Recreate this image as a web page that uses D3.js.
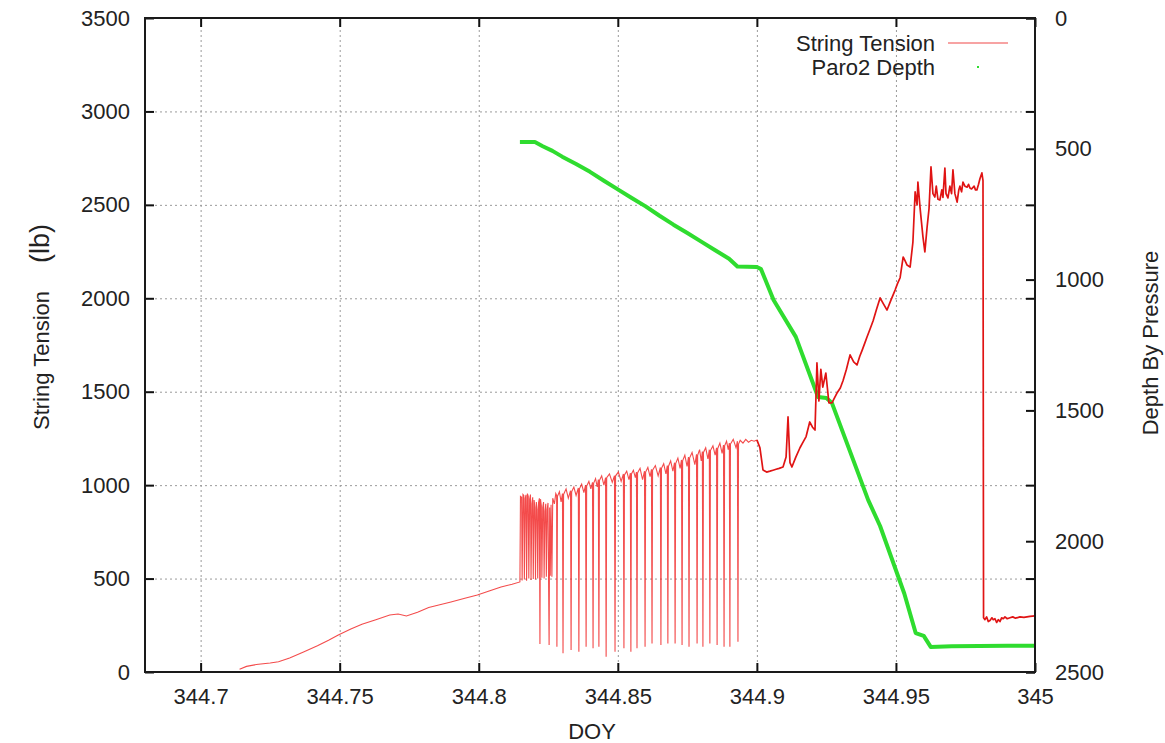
<!DOCTYPE html>
<html>
<head>
<meta charset="utf-8">
<script src="https://cdn.jsdelivr.net/npm/d3@7"></script>
<style>
body { margin: 0; background: #fff; }
svg { font-family: "Liberation Sans", Arial, Helvetica, sans-serif; }
.axis text { font-size: 22px; fill: #222; }
.axis line { stroke: #111; stroke-width: 2; }
.axis .domain { display: none; }
.grid line { stroke: #9a9a9a; stroke-width: 1; stroke-dasharray: 2,3; }
.grid .domain { display: none; }
.label { font-size: 22px; fill: #222; }
</style>
</head>
<body>
<div id="chart"></div>
<script>

// tick values / labels
var xTicks = [344.7, 344.75, 344.8, 344.85, 344.9, 344.95, 345];
var xTickLabels = ["344.7", "344.75", "344.8", "344.85", "344.9", "344.95", "345"];
var yTicks = [0, 500, 1000, 1500, 2000, 2500, 3000, 3500];
var y2Ticks = [0, 500, 1000, 1500, 2000, 2500];

// String Tension (lb) vs DOY
var tension = [
    [344.7140, 15], [344.7165, 30], [344.7200, 40], [344.7250, 48], [344.7280, 55],
    [344.7320, 75], [344.7370, 107], [344.7420, 140], [344.7460, 170], [344.7495, 198],
    [344.7540, 230], [344.7580, 255], [344.7630, 280], [344.7680, 305], [344.7710, 310],
    [344.7740, 300], [344.7780, 320], [344.7820, 345], [344.7860, 360], [344.7900, 375],
    [344.7950, 395], [344.7995, 412], [344.8040, 435], [344.8080, 455], [344.8120, 470],
    [344.8148, 482],
    // dense block
    [344.8150, 940], [344.8154, 935], [344.8156, 490], [344.8159, 950], [344.8162, 945],
    [344.8164, 495], [344.8167, 930], [344.8170, 948], [344.8172, 488], [344.8175, 955],
    [344.8178, 940], [344.8180, 500], [344.8183, 925], [344.8186, 950], [344.8188, 492],
    [344.8191, 900], [344.8194, 935], [344.8196, 498], [344.8199, 920], [344.8202, 880],
    [344.8204, 495], [344.8207, 910], [344.8210, 870], [344.8212, 500], [344.8215, 905],
    [344.8218, 930], [344.8220, 150], [344.8222, 925], [344.8225, 890], [344.8227, 505],
    [344.8230, 880], [344.8233, 910], [344.8235, 500], [344.8238, 860], [344.8241, 900],
    [344.8243, 510], [344.8246, 870], [344.8249, 905], [344.8251, 505], [344.8253, 145],
    [344.8255, 880], [344.8257, 515], [344.8260, 895], [344.8263, 510], [344.8266, 930],
    // spikes
    [344.8272, 900], [344.8277, 955], [344.8280, 945], [344.8281, 135], [344.8283, 940],
    [344.8290, 965], [344.8296, 910], [344.8301, 955], [344.8303, 100], [344.8305, 950],
    [344.8314, 980], [344.8322, 930], [344.8330, 970], [344.8332, 118], [344.8334, 965],
    [344.8342, 990], [344.8350, 945], [344.8358, 985], [344.8360, 109], [344.8362, 980],
    [344.8370, 1005], [344.8378, 960], [344.8384, 1000], [344.8386, 135], [344.8388, 995],
    [344.8396, 1020], [344.8403, 980], [344.8409, 1015], [344.8411, 127], [344.8413, 1010],
    [344.8420, 1035], [344.8426, 990], [344.8430, 1030], [344.8432, 135], [344.8434, 1025],
    [344.8442, 1050], [344.8450, 1000], [344.8456, 1040], [344.8458, 82], [344.8460, 1040],
    [344.8470, 1060], [344.8480, 1015], [344.8488, 1050], [344.8490, 109], [344.8492, 1050],
    [344.8502, 1070], [344.8512, 1020], [344.8520, 1060], [344.8522, 127], [344.8524, 1055],
    [344.8532, 1075], [344.8540, 1030], [344.8545, 1065], [344.8547, 109], [344.8549, 1060],
    [344.8556, 1080], [344.8563, 1040], [344.8567, 1070], [344.8569, 127], [344.8571, 1065],
    [344.8580, 1090], [344.8589, 1030], [344.8596, 1075], [344.8598, 135], [344.8600, 1070],
    [344.8608, 1095], [344.8616, 1045], [344.8621, 1085], [344.8623, 153], [344.8625, 1080],
    [344.8635, 1105], [344.8645, 1050], [344.8653, 1095], [344.8655, 144], [344.8657, 1090],
    [344.8665, 1115], [344.8673, 1060], [344.8678, 1105], [344.8680, 153], [344.8682, 1100],
    [344.8690, 1130], [344.8698, 1075], [344.8704, 1120], [344.8706, 153], [344.8708, 1115],
    [344.8716, 1145], [344.8724, 1090], [344.8729, 1135], [344.8731, 144], [344.8733, 1130],
    [344.8741, 1160], [344.8749, 1100], [344.8754, 1150], [344.8756, 135], [344.8758, 1145],
    [344.8767, 1175], [344.8777, 1110], [344.8783, 1165], [344.8785, 153], [344.8787, 1160],
    [344.8794, 1190], [344.8800, 1130], [344.8804, 1180], [344.8806, 135], [344.8808, 1175],
    [344.8816, 1200], [344.8824, 1140], [344.8829, 1190], [344.8831, 153], [344.8833, 1185],
    [344.8842, 1210], [344.8850, 1160], [344.8855, 1200], [344.8857, 144], [344.8859, 1195],
    [344.8867, 1225], [344.8875, 1170], [344.8880, 1215], [344.8882, 135], [344.8884, 1210],
    [344.8891, 1235], [344.8897, 1190], [344.8901, 1225], [344.8903, 135], [344.8905, 1220],
    [344.8915, 1245], [344.8925, 1200], [344.8930, 1235], [344.8932, 162], [344.8934, 1220],
    [344.8940, 1240], [344.8950, 1225], [344.8960, 1245], [344.8970, 1230], [344.8980, 1240],
    [344.8990, 1235], [344.9000, 1242],
    // descent of the string
    [344.9011, 1200], [344.9022, 1081], [344.9035, 1070], [344.9047, 1075], [344.9058, 1080],
    [344.9069, 1085], [344.9080, 1090], [344.9094, 1097], [344.9105, 1150], [344.9112, 1365],
    [344.9119, 1120], [344.9126, 1097], [344.9140, 1150], [344.9155, 1200], [344.9166, 1230],
    [344.9177, 1260], [344.9190, 1338], [344.9200, 1310], [344.9209, 1295], [344.9216, 1654],
    [344.9223, 1450], [344.9230, 1620], [344.9237, 1525], [344.9248, 1600], [344.9259, 1440],
    [344.9270, 1440], [344.9280, 1470], [344.9288, 1493], [344.9300, 1520], [344.9310, 1560],
    [344.9322, 1620], [344.9335, 1697], [344.9348, 1660], [344.9360, 1643], [344.9370, 1690],
    [344.9378, 1720], [344.9388, 1760], [344.9396, 1793], [344.9408, 1840], [344.9418, 1880],
    [344.9430, 1940], [344.9443, 2002], [344.9455, 1970], [344.9468, 1937], [344.9482, 1990],
    [344.9497, 2044], [344.9506, 2080], [344.9515, 2110], [344.9526, 2221], [344.9533, 2200],
    [344.9540, 2178], [344.9551, 2167], [344.9561, 2300], [344.9569, 2569], [344.9576, 2500],
    [344.9579, 2622], [344.9587, 2480], [344.9597, 2330], [344.9604, 2248], [344.9612, 2380],
    [344.9619, 2480], [344.9626, 2703], [344.9633, 2560], [344.9640, 2542], [344.9645, 2600],
    [344.9651, 2530], [344.9658, 2526], [344.9665, 2580], [344.9669, 2540], [344.9676, 2697],
    [344.9680, 2560], [344.9687, 2537], [344.9694, 2600], [344.9700, 2560], [344.9705, 2687],
    [344.9712, 2560], [344.9720, 2515], [344.9726, 2580], [344.9730, 2600], [344.9736, 2570],
    [344.9741, 2622], [344.9748, 2600], [344.9756, 2595], [344.9761, 2610], [344.9766, 2590],
    [344.9772, 2585], [344.9781, 2600], [344.9786, 2580], [344.9791, 2580], [344.9797, 2610],
    [344.9802, 2640], [344.9809, 2671], [344.9813, 2630],
    // after release
    [344.9815, 290], [344.9820, 280], [344.9826, 295], [344.9832, 270], [344.9838, 275],
    [344.9845, 290], [344.9850, 280], [344.9856, 285], [344.9862, 265], [344.9868, 280],
    [344.9874, 270], [344.9880, 290], [344.9886, 285], [344.9892, 295], [344.9900, 285],
    [344.9910, 290], [344.9920, 295], [344.9930, 288], [344.9946, 295], [344.9960, 292],
    [344.9982, 298], [345.0000, 300]
];

// Paro2 Depth vs DOY
var depth = [
    [344.8148, 474], [344.8202, 474], [344.8230, 490], [344.8265, 508], [344.8300, 530],
    [344.8350, 558], [344.8400, 588], [344.8450, 622], [344.8500, 655], [344.8550, 688],
    [344.8600, 720], [344.8650, 756], [344.8700, 790], [344.8750, 822], [344.8800, 855],
    [344.8850, 888], [344.8900, 920], [344.8930, 950], [344.9000, 952], [344.9015, 960],
    [344.9060, 1078], [344.9140, 1219], [344.9220, 1449], [344.9250, 1453], [344.9270, 1472],
    [344.9400, 1842], [344.9443, 1942], [344.9530, 2200], [344.9571, 2351], [344.9600, 2362],
    [344.9625, 2404], [344.9700, 2402], [344.9800, 2401], [344.9900, 2400], [345.0000, 2400]
];

var margin = { top: 18, right: 130, bottom: 71, left: 145 };
var width = 1165 - margin.left - margin.right,
    height = 743 - margin.top - margin.bottom;

var svg = d3.select("#chart").append("svg")
    .attr("width", 1165)
    .attr("height", 743);

var g = svg.append("g")
    .attr("transform", "translate(" + margin.left + "," + margin.top + ")");

// Scales
var x = d3.scaleLinear().domain([344.68, 345]).range([0, width]);
var y = d3.scaleLinear().domain([0, 3500]).range([height, 0]);
var y2 = d3.scaleLinear().domain([0, 2500]).range([0, height]);

// Grid
g.append("g").attr("class", "grid")
    .attr("transform", "translate(0," + height + ")")
    .call(d3.axisBottom(x).tickValues(xTicks.slice(0, 6)).tickSize(-height).tickFormat(""));
g.append("g").attr("class", "grid")
    .call(d3.axisLeft(y).tickValues(yTicks.slice(1, 7)).tickSize(-width).tickFormat(""));

// Clip
svg.append("defs").append("clipPath").attr("id", "clip")
    .append("rect").attr("width", width).attr("height", height);

var plot = g.append("g").attr("clip-path", "url(#clip)");

var tensionLine = d3.line()
    .x(function(d){ return x(d[0]); })
    .y(function(d){ return y(d[1]); });

var depthLine = d3.line()
    .x(function(d){ return x(d[0]); })
    .y(function(d){ return y2(d[1]); });

plot.append("path")
    .datum(depth)
    .attr("fill", "none")
    .attr("stroke", "#2fdc2f")
    .attr("stroke-width", 4)
    .attr("stroke-linejoin", "round")
    .attr("d", depthLine);

// early part of the record is thinner/lighter in the original, later part darker
plot.append("path")
    .datum(tension.filter(function(d){ return d[0] <= 344.9; }))
    .attr("fill", "none")
    .attr("stroke", "#f01e1e")
    .attr("stroke-width", 1.1)
    .attr("stroke-opacity", 0.8)
    .attr("d", tensionLine);

plot.append("path")
    .datum(tension.filter(function(d){ return d[0] >= 344.9; }))
    .attr("fill", "none")
    .attr("stroke", "#e01414")
    .attr("stroke-width", 1.7)
    .attr("stroke-linejoin", "round")
    .attr("d", tensionLine);

// Axes
g.append("g").attr("class", "axis")
    .attr("transform", "translate(0," + height + ")")
    .call(d3.axisBottom(x).tickValues(xTicks).tickSize(-9).tickPadding(16)
        .tickFormat(function(d, i){ return xTickLabels[i]; }));

g.append("g").attr("class", "axis")
    .call(d3.axisTop(x).tickValues(xTicks).tickSize(-9).tickFormat(""));

g.append("g").attr("class", "axis")
    .call(d3.axisLeft(y).tickValues(yTicks).tickSize(-9).tickPadding(15)
        .tickFormat(d3.format("d")));

g.append("g").attr("class", "axis")
    .attr("transform", "translate(" + width + ",0)")
    .call(d3.axisRight(y).tickValues(yTicks).tickSize(-9).tickFormat(""));

g.append("g").attr("class", "axis")
    .attr("transform", "translate(" + width + ",0)")
    .call(d3.axisRight(y2).tickValues(y2Ticks).tickSize(-9).tickPadding(20)
        .tickFormat(d3.format("d")));

// Frame
g.append("rect")
    .attr("width", width)
    .attr("height", height)
    .attr("fill", "none")
    .attr("stroke", "#1a1a1a")
    .attr("stroke-width", 2);

// Axis titles
svg.append("text")
    .attr("class", "label")
    .attr("x", 592)
    .attr("y", 739)
    .attr("text-anchor", "middle")
    .text("DOY");

svg.append("text")
    .attr("class", "label")
    .attr("transform", "translate(49,430) rotate(-90)")
    .text("String Tension");

svg.append("text")
    .attr("class", "label")
    .style("font-size", "27px")
    .attr("transform", "translate(49,263) rotate(-90)")
    .text("(lb)");

svg.append("text")
    .attr("class", "label")
    .attr("transform", "translate(1158,343) rotate(-90)")
    .attr("text-anchor", "middle")
    .text("Depth By Pressure");

// Legend
var legend = svg.append("g");
legend.append("text").attr("class", "label")
    .attr("x", 935).attr("y", 51).attr("text-anchor", "end")
    .text("String Tension");
legend.append("line")
    .attr("x1", 948).attr("x2", 1008).attr("y1", 43).attr("y2", 43)
    .attr("stroke", "#f04848").attr("stroke-width", 1.2);
legend.append("text").attr("class", "label")
    .attr("x", 935).attr("y", 75).attr("text-anchor", "end")
    .text("Paro2 Depth");
legend.append("rect")
    .attr("x", 977).attr("y", 66).attr("width", 2).attr("height", 2)
    .attr("fill", "#2fdc2f");

</script>
</body>
</html>
